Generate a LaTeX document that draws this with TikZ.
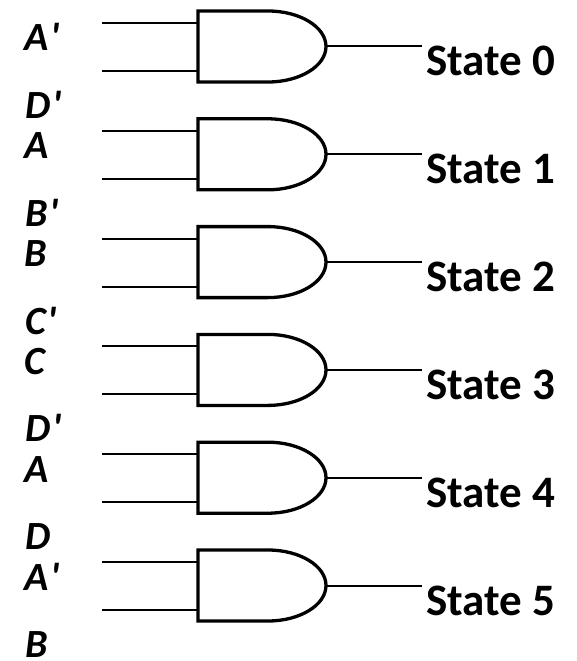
\documentclass[tikz,border=0pt]{standalone}
\usepackage{fontspec}
\setmainfont{Carlito}
\newcommand{\pr}{\kern2pt\textquotesingle}
\begin{document}
\begin{tikzpicture}[x=1pt,y=-1pt,
    gate/.style={line width=3.3pt,line join=miter},
    wire/.style={line width=2pt},
    inlabel/.style={font=\fontsize{40}{42}\selectfont\bfseries\itshape,inner sep=0pt,anchor=base west},
    statelabel/.style={font=\fontsize{45}{47}\selectfont\bfseries,inner sep=0pt,anchor=base west}]
    \useasboundingbox (0,0) rectangle (576,661);

    \foreach \i/\p/\q in {0/A\pr/D\pr, 1/A/B\pr, 2/B/C\pr,
                          3/C/D\pr, 4/A/D, 5/A\pr/B}{
        \pgfmathsetmacro{\ty}{11+107.8*\i}
        % inputs
        \node[inlabel] (p\i) at (24,\ty+40) {\p};
        \node[inlabel] (q\i) at (25,\ty+107.5) {\q};
        \coordinate (ina\i) at (102,\ty+12);
        \coordinate (inb\i) at (102,\ty+60);
        \coordinate (ga\i) at (198,\ty+12);
        \coordinate (gb\i) at (198,\ty+60);
        \coordinate (go\i) at (326,\ty+35.5);
        % gate
        \draw[gate] (198,\ty) -- (268,\ty)
            .. controls (300,\ty) and (326,\ty+16) .. (go\i)
            .. controls (326,\ty+55) and (300,\ty+71) .. (268,\ty+71)
            -- (198,\ty+71) -- cycle;
        % output
        \node[statelabel] (s\i) at (426,\ty+65) {State \i};

        \draw[wire] (ina\i) to (ga\i);
        \draw[wire] (inb\i) to (gb\i);
        \draw[wire] (go\i) to ([xshift=-4pt]go\i -| s\i.west);
    }
\end{tikzpicture}
\end{document}
